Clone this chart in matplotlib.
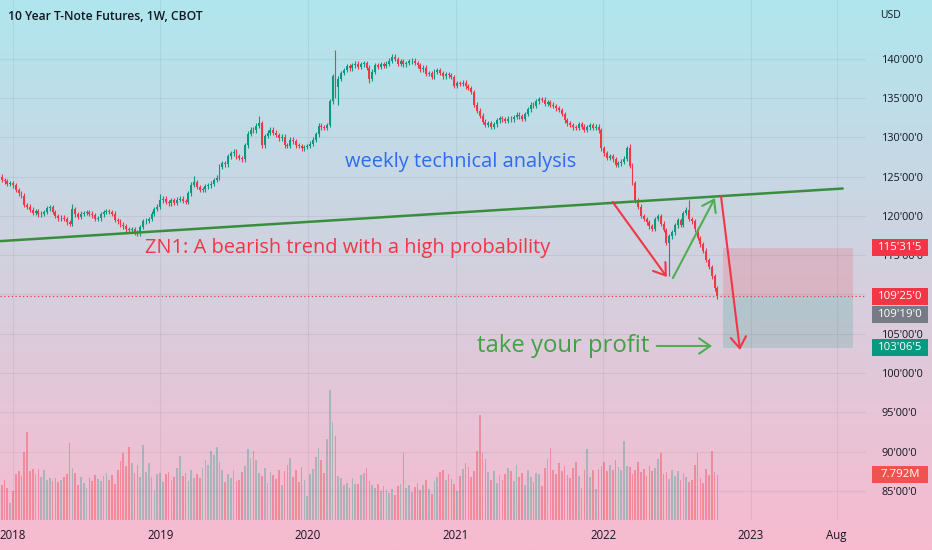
import matplotlib
matplotlib.use('Agg')
import matplotlib.pyplot as plt
import matplotlib.dates as mdates
from matplotlib.patches import Rectangle
import numpy as np
import pandas as pd

# ---------------- data ----------------
closes_2017 = [125.0, 124.6, 124.4, 124.1, 124.2]
closes_2018 = [123.9, 123.3, 122.9, 122.6, 121.4, 121.2, 120.8, 120.4, 120.6, 120.2, 120.3, 120.5, 121.0,
               121.1, 120.5, 120.0, 119.7, 119.8, 119.6, 119.2, 119.0, 120.9, 120.2, 119.9, 120.3, 120.4,
               120.5, 120.3, 120.1, 119.6, 119.7, 120.2, 120.5, 120.6, 120.5, 120.3, 119.5, 119.3, 118.9,
               118.7, 118.3, 118.2, 118.3, 117.9, 117.8, 118.6, 119.3, 119.4, 119.6, 120.3, 120.9, 121.2]
closes_2019 = [122.0, 122.2, 121.8, 121.6, 122.0, 121.7, 122.1, 122.2, 121.9, 121.8, 122.9, 124.0, 124.3,
               123.7, 123.3, 123.4, 123.8, 123.9, 124.1, 124.6, 124.9, 126.3, 126.7, 126.6, 127.6, 128.0,
               128.2, 127.6, 127.4, 127.2, 129.0, 130.5, 131.0, 130.9, 131.5, 131.8, 129.0, 130.2, 130.6,
               131.0, 130.6, 130.3, 129.9, 130.1, 129.0, 128.9, 129.7, 129.5, 129.0, 128.9, 128.6, 128.8]
closes_2020 = [128.9, 129.2, 129.7, 130.4, 131.5, 131.3, 131.2, 131.6, 134.6, 137.8, 136.4, 137.5, 138.2,
               138.6, 139.1, 138.8, 139.2, 139.4, 139.0, 139.3, 139.5, 138.9, 137.5, 138.4, 139.2, 139.0,
               139.3, 139.1, 139.4, 139.8, 140.3, 140.0, 139.4, 139.7, 139.3, 139.5, 139.7, 139.8, 139.5,
               139.2, 138.7, 138.9, 138.1, 138.2, 137.7, 138.4, 138.6, 138.2, 137.8, 138.1, 137.9, 137.7]
closes_2021 = [136.6, 136.9, 136.8, 137.0, 136.5, 136.3, 135.8, 134.2, 133.4, 132.8, 132.0, 131.6, 131.8,
               131.4, 131.7, 132.2, 132.5, 132.3, 132.1, 132.4, 132.3, 132.6, 132.9, 132.7, 132.4, 133.0,
               133.6, 134.2, 134.0, 134.6, 134.9, 134.8, 134.3, 134.5, 134.2, 134.0, 133.7, 133.5, 133.0,
               132.2, 131.8, 131.6, 131.3, 131.2, 131.7, 131.4, 131.0, 131.3, 131.6, 131.2, 131.4, 130.9]
closes_2022 = [128.6, 128.0, 127.4, 127.6, 127.2, 126.5, 126.7, 126.9, 127.3, 128.6, 126.4, 124.2, 122.0,
               121.2, 120.0, 119.6, 119.2, 118.7, 118.4, 119.6, 120.0, 119.0, 118.2, 116.6, 117.4, 117.9,
               118.8, 119.5, 118.9, 120.4, 120.8, 119.6, 119.3, 118.3, 117.2, 116.4, 115.6, 114.4, 113.5,
               112.3, 110.8, 109.78]
first_open = 125.3
first_week = '2017-11-27'

# notable wicks: week start -> high / low
wick_highs = {'2018-05-28': 121.5, '2018-12-31': 122.8, '2019-03-25': 125.1, '2019-09-02': 132.8,
              '2020-03-09': 141.1, '2022-03-07': 129.2, '2022-08-01': 122.0}
wick_lows = {'2019-09-09': 128.6, '2020-03-09': 135.0, '2020-03-16': 134.1, '2020-06-01': 137.0,
             '2022-06-13': 112.4}

volumes_m = [6.5, 6.0, 7.0, 5.5, 2.9, 5.0, 8.0, 8.5, 7.6, 11.8, 15.3, 8.5, 8.8,
             7.9, 8.9, 7.4, 8.7, 7.0, 7.2, 6.8, 7.3, 6.5, 6.9, 7.4, 8.0, 13.3,
             9.0, 8.2, 6.1, 7.4, 6.4, 5.5, 7.2, 6.8, 7.8, 7.1, 6.7, 7.6, 8.1,
             6.9, 7.8, 6.2, 8.6, 10.2, 11.6, 9.3, 12.7, 9.8, 8.2, 9.6, 7.5, 13.0,
             8.3, 9.8, 7.4, 5.2, 7.9, 8.2, 6.6, 7.9, 8.3, 6.9, 7.5, 9.0, 11.0,
             7.6, 8.1, 6.8, 8.6, 7.3, 8.0, 7.2, 9.0, 10.4, 9.6, 12.0, 11.3, 12.6,
             10.0, 8.6, 6.5, 7.9, 7.2, 8.6, 6.8, 7.0, 8.3, 9.4, 12.2, 10.8, 11.9,
             10.4, 8.2, 7.6, 9.0, 6.4, 8.3, 7.8, 7.1, 8.7, 6.0, 8.4, 9.5, 10.7,
             7.5, 8.6, 6.6, 9.2, 6.9, 4.2, 8.0, 8.8, 10.9, 12.4, 10.3, 8.2, 14.0,
             22.5, 17.0, 14.5, 7.6, 7.2, 6.0, 6.4, 5.6, 7.3, 6.3, 6.2, 7.8, 8.1,
             9.0, 6.7, 6.1, 5.5, 6.3, 5.0, 5.8, 5.2, 4.6, 5.4, 4.4, 5.9, 6.2,
             11.6, 5.5, 6.0, 4.8, 5.7, 6.4, 5.2, 6.0, 6.9, 5.3, 4.5, 6.8, 7.4,
             8.3, 8.6, 6.9, 8.0, 7.1, 6.2, 5.0, 7.6, 8.8, 9.8, 9.2, 7.5, 8.4,
             12.0, 18.2, 11.6, 10.6, 8.3, 7.0, 8.5, 6.4, 7.7, 6.9, 7.9, 9.0, 8.5,
             6.8, 9.6, 7.4, 8.2, 6.1, 8.6, 7.5, 6.5, 8.2, 7.9, 5.8, 9.0, 10.5,
             12.4, 8.6, 8.0, 9.9, 8.5, 9.4, 7.7, 7.2, 9.0, 10.0, 7.6, 5.5, 8.6,
             12.3, 7.4, 8.6, 5.4, 8.9, 9.3, 10.0, 8.4, 9.6, 8.7, 10.3, 9.1, 8.6,
             13.6, 9.4, 9.1, 8.0, 8.7, 10.0, 8.3, 8.9, 7.6, 9.3, 8.4, 9.0, 10.6,
             11.6, 8.0, 8.3, 7.1, 8.6, 7.6, 8.5, 6.9, 8.2, 7.4, 6.6, 7.0, 9.6,
             11.6, 7.3, 6.4, 8.9, 7.7, 11.9, 8.3, 7.79]

price_ticks = [140, 135, 130, 125, 120, 115, 105, 100, 95, 90, 85]
time_ticks = ['2018-01-01', '2019-01-01', '2020-01-01', '2021-01-01', '2022-01-01', '2023-01-01', '2023-08-01']
time_labels = ['2018', '2019', '2020', '2021', '2022', '2023', 'Aug']

# position tool (short) and price tags
entry_price = 109.78      # 109'25'0
stop_price = 115.98       # 115'31'5
target_price = 103.20     # 103'06'5
current_price = 109.59    # 109'19'0
last_volume = 7.792
box_start, box_end = '2022-10-24', '2023-09-10'

trend_start = ('2017-11-30', 116.8)
trend_end = ('2023-08-16', 123.5)
red_arrows = [(('2022-01-24', 121.78), ('2022-06-07', 112.23)),
              (('2022-10-19', 122.55), ('2022-12-05', 102.93))]
green_arrows = [(('2022-06-22', 112.10), ('2022-10-04', 122.29)),
                (('2022-05-13', 103.44), ('2022-09-27', 103.44))]

# ---------------- styling ----------------
UP = '#089981'
DN = '#f23645'
TXT = '#131722'
WICK = 0.3
W, H = 932, 550

plt.rcParams['font.family'] = ['Open Sans', 'DejaVu Sans']

fig = plt.figure(figsize=(W / 100, H / 100), dpi=100)

# background gradient
bg = fig.add_axes([0, 0, 1, 1], zorder=-10)
top = np.array([176, 230, 238]) / 255
bot = np.array([248, 186, 207]) / 255
t = np.linspace(0, 1, 256)[:, None]
grad = (top[None, :] * (1 - t) + bot[None, :] * t)[:, None, :]
bg.imshow(grad, aspect='auto', extent=[0, 1, 0, 1], origin='upper')
bg.axis('off')

pos = [0, 30 / H, 866 / W, 520 / H]
vax = fig.add_axes(pos, zorder=1)
ax = fig.add_axes(pos, zorder=2, sharex=vax)
for a in (ax, vax):
    a.patch.set_alpha(0)
    for s in a.spines.values():
        s.set_visible(False)

closes = np.array(closes_2017 + closes_2018 + closes_2019 + closes_2020 + closes_2021 + closes_2022)
n = len(closes)
dates = pd.date_range(first_week, periods=n, freq='7D')
dn = mdates.date2num(dates)
opens = np.concatenate([[first_open], closes[:-1]])
highs = np.maximum(opens, closes) + WICK
lows = np.minimum(opens, closes) - WICK
for d, v in wick_highs.items():
    highs[dates.get_loc(pd.Timestamp(d))] = v
for d, v in wick_lows.items():
    lows[dates.get_loc(pd.Timestamp(d))] = v
up = closes >= opens
cols = np.where(up, UP, DN)

ax.vlines(dn, lows, highs, colors=cols, lw=0.8, zorder=3)
body = np.maximum(np.abs(closes - opens), 0.08)
ax.bar(dn, body, bottom=np.minimum(opens, closes), width=4.8, color=cols, lw=0, zorder=4)

vols = np.array(volumes_m)
vcols = [(8/255, 153/255, 129/255, 0.30) if u else (242/255, 54/255, 69/255, 0.38) for u in up]
vax.bar(dn, vols, width=4.2, color=vcols, lw=0)

# axes limits (pixel mapping)
x0 = mdates.date2num(pd.Timestamp('2018-01-01'))
ppd = 147.6 / 365.25
ax.set_xlim(x0 - 13 / ppd, x0 + (866 - 13) / ppd)
ax.set_ylim(140 - 461 / 7.85, 140 + 59 / 7.85)
vax.set_ylim(0, 520 / 5.78)
vax.set_yticks([])

# grid
for p in price_ticks + [110]:
    ax.axhline(p, color='#2a2e39', alpha=0.07, lw=0.8, zorder=0)
tt = mdates.date2num(pd.to_datetime(time_ticks))
for x in tt:
    ax.axvline(x, color='#2a2e39', alpha=0.07, lw=0.8, zorder=0)

ax.set_xticks(tt)
ax.set_xticklabels(time_labels)
ax.tick_params(axis='x', length=0, pad=6.5, labelsize=8.3, labelcolor=TXT)
vax.tick_params(axis='x', length=0, labelbottom=False)
ax.yaxis.tick_right()
ax.set_yticks(price_ticks)
ax.set_yticklabels([f"{p}'00'0" for p in price_ticks])
ax.tick_params(axis='y', length=0, pad=11.5, labelsize=7.8, labelcolor=TXT)

# trend line
ts = mdates.date2num(pd.Timestamp(trend_start[0]))
te = mdates.date2num(pd.Timestamp(trend_end[0]))
ax.plot([ts, te], [trend_start[1], trend_end[1]], color='#388e3c', lw=1.8, zorder=5, solid_capstyle='round')

# position tool
bs = mdates.date2num(pd.Timestamp(box_start))
be = mdates.date2num(pd.Timestamp(box_end))
ax.add_patch(Rectangle((bs, entry_price), be - bs, stop_price - entry_price,
                       facecolor=DN, alpha=0.17, lw=0, zorder=2))
ax.add_patch(Rectangle((bs, target_price), be - bs, entry_price - target_price,
                       facecolor=UP, alpha=0.17, lw=0, zorder=2))
ax.axhline(entry_price, color=DN, lw=0.9, ls=(0, (1, 2)), zorder=3)

def arrow(seg, color):
    (d0, p0), (d1, p1) = seg
    xa = mdates.date2num(pd.Timestamp(d0))
    xb = mdates.date2num(pd.Timestamp(d1))
    ax.annotate('', xy=(xb, p1), xytext=(xa, p0),
                arrowprops=dict(arrowstyle='->,head_length=0.8,head_width=0.55', color=color,
                                lw=1.5, shrinkA=0, shrinkB=0), zorder=6)

for seg in red_arrows:
    arrow(seg, '#f23645')
for seg in green_arrows:
    arrow(seg, '#4caf50')

# texts
def ftext(x, y, s, **kw):
    fig.text(x / W, 1 - y / H, s, **kw)

ftext(8, 17, '10 Year T-Note Futures, 1W, CBOT', fontsize=8.7, color=TXT, va='center', ha='left', fontweight='semibold')
ftext(880, 16, 'USD', fontsize=7.5, color=TXT, va='center', ha='left')
ftext(345, 162, 'weekly technical analysis', fontsize=14.4, color='#2f6bf0', va='center', ha='left', fontweight='medium')
ftext(145, 248, 'ZN1: A bearish trend with a high probability', fontsize=14.4, color='#f23645', va='center', ha='left', fontweight='medium')
ftext(477, 346, 'take your profit', fontsize=17.2, color='#43a047', va='center', ha='left', fontweight='medium')

# price tags
fig.canvas.draw()
def tag(axis, value, label, color, dy=0):
    yd = axis.transData.transform((ax.get_xlim()[0], value))[1] - dy
    fig.add_artist(Rectangle((872 / W, (yd - 8.5) / H), 56 / W, 17 / H, transform=fig.transFigure,
                             facecolor=color, lw=0, zorder=10))
    fig.text(900 / W, yd / H, label, color='white', fontsize=8.2, ha='center', va='center', zorder=11)

tag(ax, stop_price, "115'31'5", DN)
tag(ax, entry_price, "109'25'0", DN)
tag(ax, current_price, "109'19'0", '#787b86', dy=17)
tag(ax, target_price, "103'06'5", UP)
tag(vax, last_volume, '7.792M', '#ef5350')

fig.savefig('out.png', dpi=100)
